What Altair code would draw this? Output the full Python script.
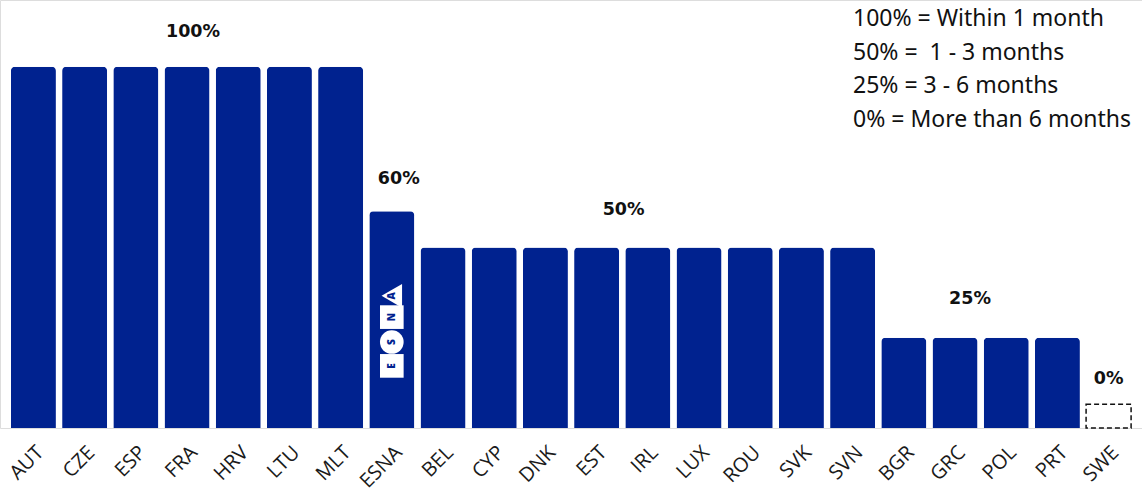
import altair as alt
import pandas as pd

# Countries in display order and the share of payments made in time
countries = ["AUT", "CZE", "ESP", "FRA", "HRV", "LTU", "MLT", "ESNA",
             "BEL", "CYP", "DNK", "EST", "IRL", "LUX", "ROU", "SVK", "SVN",
             "BGR", "GRC", "POL", "PRT", "SWE"]
values = [100, 100, 100, 100, 100, 100, 100, 60,
          50, 50, 50, 50, 50, 50, 50, 50, 50,
          25, 25, 25, 25, 0]

# Group labels: text, the country it sits over, the level it refers to
group_text = ["100%", "60%", "50%", "25%", "0%"]
group_anchor = ["FRA", "ESNA", "EST", "GRC", "SWE"]
group_level = [100, 60, 50, 25, 0]

# Zero-value entries get an outlined placeholder box of this nominal height
placeholder_height = 6.6

legend_lines = ["100% = Within 1 month", "50% =\u00a0 1 - 3 months",
                "25% = 3 - 6 months", "0% = More than 6 months"]

# Small ESNA badge drawn inside the ESNA bar (letters stacked bottom-up)
logo_letters = ["E", "S", "N", "A"]
logo_shapes = ["square", "circle", "square", "triangle-left"]
logo_levels = [17.2, 23.8, 30.7, 36.6]

BLUE = "#00228f"
Y_MAX = 118.5

bars_df = pd.DataFrame({"country": countries, "value": values})
bars_df["placeholder"] = [placeholder_height if v == 0 else None for v in values]

x_enc = alt.X("country:N", sort=countries, title=None,
              scale=alt.Scale(paddingInner=0.121, paddingOuter=0.213),
              axis=alt.Axis(labelAngle=-45, labelFontSize=20, labelFont="Open Sans",
                            labelColor="#1a1a1a", domain=False, ticks=False,
                            labelPadding=14, labelFontWeight=400,
                            labelOverlap=False, labelBound=False))
y_scale = alt.Scale(domain=[0, Y_MAX], nice=False)

base = alt.Chart(bars_df)

bars = base.transform_filter("datum.value > 0").mark_bar(
    color=BLUE, cornerRadiusTopLeft=4, cornerRadiusTopRight=4
).encode(
    x=x_enc,
    y=alt.Y("value:Q", scale=y_scale, axis=None),
)

placeholder = base.transform_filter("datum.value == 0").mark_bar(
    fill="white", stroke="#111111", strokeWidth=1.5, strokeDash=[5, 3]
).encode(
    x=alt.X("country:N", sort=countries),
    y=alt.Y("placeholder:Q", scale=y_scale),
)

layers = [bars, placeholder]

# Level labels above each group
shifts = {"100%": (6, -35), "60%": (7, -32), "50%": (27, -37),
          "25%": (15, -39), "0%": (0, -25)}
for txt, anchor, level in zip(group_text, group_anchor, group_level):
    dx, dy = shifts[txt]
    ypos = level if level > 0 else placeholder_height
    lab = alt.Chart(pd.DataFrame({"country": [anchor], "pos": [ypos], "t": [txt]})).mark_text(
        font="DejaVu Sans", fontWeight=700, fontSize=17.5, color="#111111",
        dx=dx, dy=dy, baseline="middle", align="center"
    ).encode(
        x=alt.X("country:N", sort=countries),
        y=alt.Y("pos:Q", scale=y_scale),
        text="t:N",
    )
    layers.append(lab)

# ESNA badge
logo_df = pd.DataFrame({"country": ["ESNA"] * 4, "pos": logo_levels,
                        "letter": logo_letters, "shape": logo_shapes})
logo_marks = alt.Chart(logo_df).mark_point(
    filled=True, color="white", size=560, opacity=1
).encode(
    x=alt.X("country:N", sort=countries),
    y=alt.Y("pos:Q", scale=y_scale),
    shape=alt.Shape("shape:N", scale=None, legend=None),
)
logo_text = alt.Chart(logo_df).mark_text(
    font="Open Sans", fontWeight=800, fontSize=10, color=BLUE, angle=270,
    baseline="middle", align="center"
).encode(
    x=alt.X("country:N", sort=countries),
    y=alt.Y("pos:Q", scale=y_scale),
    text="letter:N",
)
layers += [logo_marks, logo_text]

# Legend block in the top-right corner
legend = alt.Chart(pd.DataFrame({"t": [legend_lines]})).mark_text(
    font="Noto Sans", fontSize=23, color="#111111", align="left",
    baseline="top", lineHeight=33.7
).encode(
    x=alt.value(853), y=alt.value(8), text="t"
)
layers.append(legend)

chart = alt.layer(*layers).properties(
    width=1142, height=428,
    autosize=alt.AutoSizeParams(type="none"),
    padding={"left": 0, "top": 0, "right": 0, "bottom": 60},
).configure_view(stroke=None).configure(background="white")

chart.save("out.html", embed_options={"renderer": "svg", "actions": False})
